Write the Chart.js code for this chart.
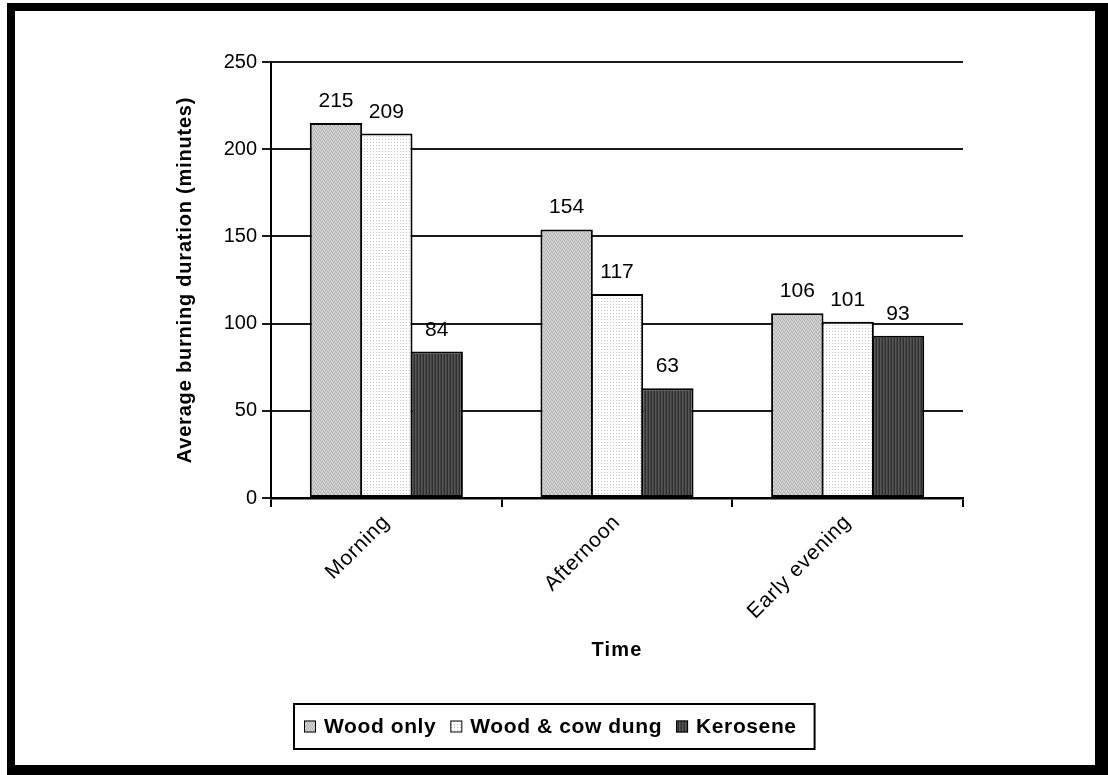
<!DOCTYPE html>
<html>
<head>
<meta charset="utf-8">
<title>Average burning duration by time of day</title>
<script src="https://cdn.jsdelivr.net/npm/chart.js@4.4.1/dist/chart.umd.min.js"></script>
<style>
  html, body { margin: 0; padding: 0; background: #fff; }
  canvas { display: block; }
</style>
</head>
<body>
<canvas id="chart" width="1108" height="775"></canvas>
<script>
// Time-of-day categories and the three fuel series (minutes)
const categories = ['Morning', 'Afternoon', 'Early evening'];
const seriesNames = ['Wood only', 'Wood & cow dung', 'Kerosene'];
const woodOnly = [215, 154, 106];
const woodCowDung = [209, 117, 101];
const kerosene = [84, 63, 93];
const yTickValues = [0, 50, 100, 150, 200, 250];
const yTitle = 'Average burning duration (minutes)';
const xTitle = 'Time';

const canvas = document.getElementById('chart');
const ctx = canvas.getContext('2d');

// Small bitmap fills that give each series its texture
function makePattern(size, base, paint) {
  const c = document.createElement('canvas');
  c.width = size; c.height = size;
  const g = c.getContext('2d');
  g.fillStyle = base;
  g.fillRect(0, 0, size, size);
  paint(g);
  return ctx.createPattern(c, 'repeat');
}
const px = (g, x, y, col) => { g.fillStyle = col; g.fillRect(x, y, 1, 1); };

const woodFill = makePattern(4, '#c6c6c6', g => {
  px(g, 0, 0, '#a9a9a9'); px(g, 2, 1, '#a9a9a9'); px(g, 1, 2, '#b0b0b0'); px(g, 3, 3, '#b0b0b0');
  px(g, 1, 0, '#dedede'); px(g, 3, 1, '#dedede'); px(g, 0, 2, '#dcdcdc'); px(g, 2, 3, '#dcdcdc');
});
const dungFill = makePattern(3, '#ffffff', g => { px(g, 1, 1, '#c4c4c4'); });
const keroFill = makePattern(3, '#444444', g => {
  g.fillStyle = '#2f2f2f'; g.fillRect(0, 0, 1, 3);
  g.fillStyle = '#575757'; g.fillRect(1, 0, 1, 3);
});
const fills = [woodFill, dungFill, keroFill];

const FONT = '"Liberation Sans", Arial, sans-serif';

// Outer frame of the chart sheet
const framePlugin = {
  id: 'frame',
  beforeDraw(chart) {
    const c = chart.ctx;
    c.save();
    c.fillStyle = '#000';
    c.fillRect(7, 3, chart.width - 7, chart.height - 3);
    c.fillStyle = '#fff';
    c.fillRect(15, 11, chart.width - 28, chart.height - 21);
    c.restore();
    c.letterSpacing = '0px';
  }
};

// Value labels above each bar, then slightly widened spacing for the category labels
const valueLabelPlugin = {
  id: 'valueLabels',
  afterDatasetsDraw(chart) {
    const c = chart.ctx;
    c.save();
    c.letterSpacing = '0px';
    c.font = '21px ' + FONT;
    c.fillStyle = '#000';
    c.textAlign = 'center';
    c.textBaseline = 'alphabetic';
    chart.data.datasets.forEach((ds, i) => {
      chart.getDatasetMeta(i).data.forEach((bar, j) => {
        c.fillText(String(ds.data[j]), bar.x, bar.y - 16);
      });
    });
    c.restore();
    c.letterSpacing = '0.7px';
  }
};

// Axis titles and the boxed legend
const titlesLegendPlugin = {
  id: 'titlesLegend',
  afterDraw(chart) {
    const c = chart.ctx;
    const area = chart.chartArea;
    c.save();
    c.fillStyle = '#000';
    c.textAlign = 'center';
    c.textBaseline = 'middle';

    // y-axis title
    c.letterSpacing = '0.8px';
    c.font = 'bold 20px ' + FONT;
    c.save();
    c.translate(area.left - 86, (area.top + area.bottom) / 2);
    c.rotate(-Math.PI / 2);
    c.fillText(yTitle, 0, 0);
    c.restore();

    // x-axis title
    c.letterSpacing = '1.2px';
    c.fillText(xTitle, (area.left + area.right) / 2, area.bottom + 152);

    // legend
    c.letterSpacing = '0.6px';
    c.font = 'bold 21px ' + FONT;
    const sw = 12, gapIn = 8, gapOut = 14;
    const items = chart.data.datasets.map((ds, i) => ({
      label: ds.label, fill: fills[i], w: c.measureText(ds.label).width
    }));
    const contentW = items.reduce((s, it) => s + sw + gapIn + it.w, 0) + gapOut * (items.length - 1);
    const boxW = contentW + 28, boxH = 45;
    const cx = chart.width / 2;
    const boxX = Math.round(cx - boxW / 2), boxY = area.bottom + 206;
    c.lineWidth = 2;
    c.strokeStyle = '#000';
    c.fillStyle = '#fff';
    c.fillRect(boxX, boxY, boxW, boxH);
    c.strokeRect(boxX, boxY, boxW, boxH);
    let x = boxX + 10;
    const midY = boxY + boxH / 2;
    c.textAlign = 'left';
    items.forEach(it => {
      c.fillStyle = it.fill;
      c.fillRect(x, midY - sw / 2, sw, sw);
      c.lineWidth = 1;
      c.strokeRect(x + 0.5, midY - sw / 2 + 0.5, sw - 1, sw - 1);
      x += sw + gapIn;
      c.fillStyle = '#000';
      c.fillText(it.label, x, midY + 1);
      x += it.w + gapOut;
    });
    c.restore();
    c.letterSpacing = '0px';
  }
};

const datasetValues = [woodOnly, woodCowDung, kerosene];

new Chart(canvas, {
  type: 'bar',
  data: {
    labels: categories,
    datasets: datasetValues.map((vals, i) => ({
      label: seriesNames[i],
      data: vals,
      backgroundColor: fills[i],
      borderColor: '#000',
      borderWidth: 2,
      borderSkipped: false,
      categoryPercentage: 0.655,
      barPercentage: 1.04
    }))
  },
  options: {
    responsive: false,
    animation: false,
    events: [],
    layout: { padding: { left: 20, right: 145, top: 62, bottom: 20 } },
    plugins: {
      legend: { display: false },
      tooltip: { enabled: false },
      title: { display: false }
    },
    scales: {
      x: {
        afterFit(scale) { scale.height = 257; },
        grid: {
          offset: true,
          drawOnChartArea: false,
          drawTicks: true,
          tickLength: 9,
          color: '#000',
          lineWidth: 2
        },
        border: { display: true, color: '#000', width: 2.5, z: 1 },
        ticks: {
          z: 1,
          minRotation: 45,
          maxRotation: 45,
          padding: 3,
          color: '#000',
          font: { family: FONT, size: 21 }
        }
      },
      y: {
        min: 0,
        max: 250,
        afterFit(scale) { scale.width = 251; },
        afterBuildTicks(scale) { scale.ticks = yTickValues.map(v => ({ value: v })); },
        grid: {
          color: '#1a1a1a',
          lineWidth: 2,
          drawTicks: true,
          tickLength: 9
        },
        border: { display: true, color: '#000', width: 2, z: 1 },
        ticks: {
          padding: 5,
          color: '#000',
          font: { family: FONT, size: 20 }
        }
      }
    }
  },
  plugins: [framePlugin, valueLabelPlugin, titlesLegendPlugin]
});
</script>
</body>
</html>
